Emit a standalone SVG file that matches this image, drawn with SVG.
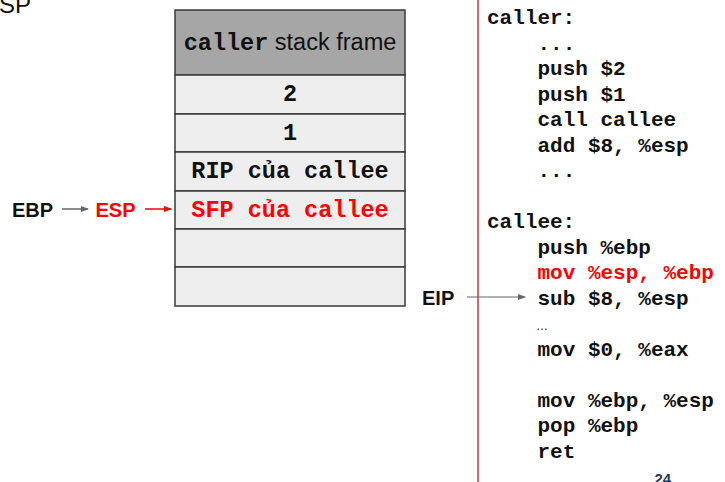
<svg xmlns="http://www.w3.org/2000/svg" width="725" height="482" viewBox="0 0 725 482">
<defs>
<marker id="ag" markerWidth="8" markerHeight="6" refX="7" refY="3" orient="auto" markerUnits="userSpaceOnUse"><path d="M0,0 L8,3 L0,6 Z" fill="#666"/></marker>
<marker id="ar" markerWidth="8" markerHeight="6" refX="7" refY="3" orient="auto" markerUnits="userSpaceOnUse"><path d="M0,0 L8,3 L0,6 Z" fill="#ff0000"/></marker>
<style>
.cell{fill:#eeeeee;stroke:#3a3a3a;stroke-width:1.5}
.hdr{fill:#a6a6a6;stroke:#3a3a3a;stroke-width:1.5}
.mono{font-family:"Liberation Mono","Courier New",monospace;font-weight:bold}
.st{font-size:23.5px;text-anchor:middle}
.code{font-size:21px;fill:#111}
.lbl{font-family:"Liberation Sans",Arial,sans-serif;font-weight:bold;font-size:20px}
.red{fill:#ff0000}
</style>
</defs>
<rect width="725" height="482" fill="#ffffff"/>
<text x="-17" y="13" font-family="Liberation Sans, Arial, sans-serif" font-size="24" fill="#111">ESP</text>
<g id="stack">
<g id="hdr"><rect class="hdr" x="175" y="10" width="230" height="65"/>
<text x="290" y="50" font-size="23.5" text-anchor="middle" fill="#111"><tspan class="mono">caller</tspan><tspan font-family="Liberation Sans, Arial, sans-serif"> stack frame</tspan></text></g>
<g id="r2"><rect class="cell" x="175" y="75" width="230" height="39"/><text class="mono st" x="290" y="101" fill="#111">2</text></g>
<g id="r1"><rect class="cell" x="175" y="114" width="230" height="38"/><text class="mono st" x="290" y="139.5" fill="#111">1</text></g>
<g id="rip"><rect class="cell" x="175" y="152" width="230" height="39"/><text class="mono st" x="290" y="178" fill="#111">RIP của callee</text></g>
<g id="sfp"><rect class="cell" x="175" y="191" width="230" height="38"/><text class="mono st red" x="290" y="216.5">SFP của callee</text></g>
<g id="e1"><rect class="cell" x="175" y="229" width="230" height="38"/></g>
<g id="e2"><rect class="cell" x="175" y="267" width="230" height="39"/></g>
</g>
<g id="labels">
<text class="lbl" x="12" y="216.5" fill="#111">EBP</text>
<text class="lbl red" x="95.5" y="216.5">ESP</text>
<text class="lbl" x="422" y="305" fill="#111">EIP</text>
</g>
<line x1="478" y1="0" x2="478" y2="482" stroke="#c9393b" stroke-width="1.5"/>
<g id="connectors">
<line x1="62" y1="209" x2="88" y2="209" stroke="#666" stroke-width="1.5" marker-end="url(#ag)"/>
<line x1="145" y1="209" x2="171" y2="209" stroke="#ff0000" stroke-width="1.5" marker-end="url(#ar)"/>
<line x1="467" y1="297" x2="525" y2="297" stroke="#666" stroke-width="1.2" marker-end="url(#ag)"/>
</g>
<g id="code" class="mono code">
<text x="487" y="24">caller:</text>
<text x="537.5" y="49.5">...</text>
<text x="537.5" y="75">push $2</text>
<text x="537.5" y="100.5">push $1</text>
<text x="537.5" y="126">call callee</text>
<text x="537.5" y="151.5">add $8, %esp</text>
<text x="537.5" y="177">...</text>
<text x="487" y="228">callee:</text>
<text x="537.5" y="253.5">push %ebp</text>
<text x="537.5" y="279" class="red">mov %esp, %ebp</text>
<text x="537.5" y="304.5">sub $8, %esp</text>
<text x="536" y="330" font-family="Liberation Sans, Arial, sans-serif" font-weight="normal" font-size="12">…</text>
<text x="537.5" y="355.5">mov $0, %eax</text>
<text x="537.5" y="406.5">mov %ebp, %esp</text>
<text x="537.5" y="432">pop %ebp</text>
<text x="537.5" y="457.5">ret</text>
</g>
<text x="654.5" y="484" font-family="Liberation Sans, Arial, sans-serif" font-weight="bold" font-size="15" fill="#1f3864">24</text>
</svg>
